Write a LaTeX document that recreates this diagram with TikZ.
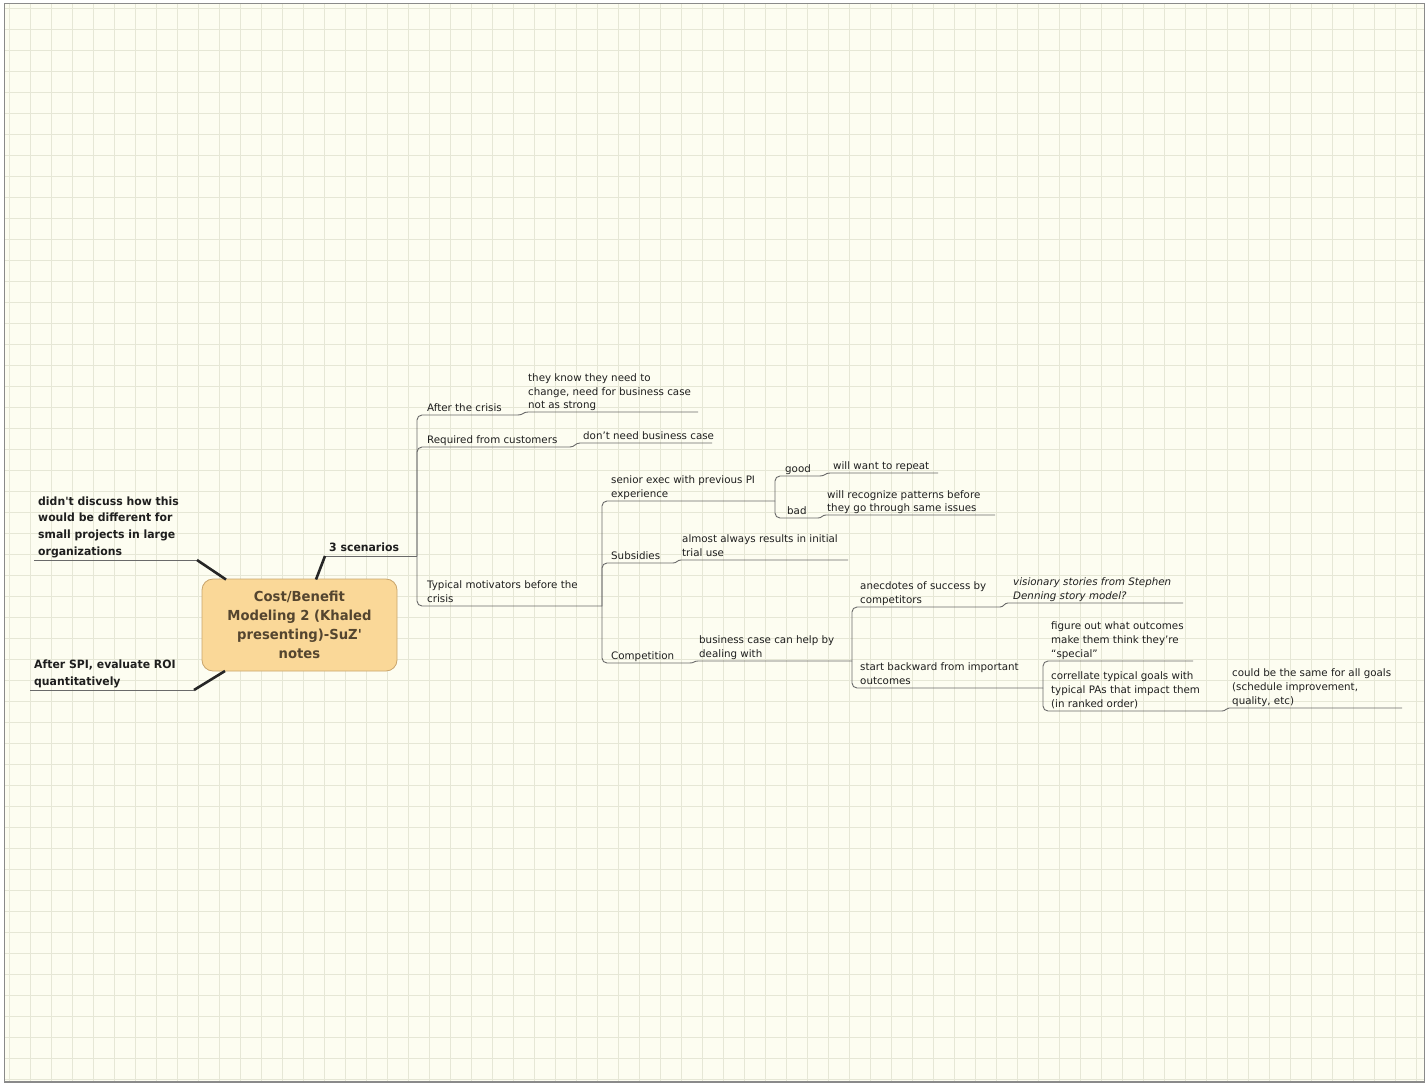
\documentclass[tikz,border=0pt]{standalone}
\usepackage{fontspec}
\setmainfont{DejaVu Sans}
\newfontfamily\boldfam{DejaVu Sans}[FakeStretch=0.955]
\usetikzlibrary{calc}
\definecolor{bgc}{HTML}{FDFDF1}
\definecolor{gridc}{HTML}{E6E7D6}
\definecolor{framec}{HTML}{8A8A8A}
\definecolor{lnc}{HTML}{6A6A6A}
\definecolor{txtc}{HTML}{1E1E1E}
\definecolor{rootfill}{HTML}{FAD898}
\definecolor{rootdraw}{HTML}{C9A56C}
\definecolor{roottxt}{HTML}{54452F}
\tikzset{
  sm/.style={font=\fontsize{10.3}{13.8}\selectfont, align=left, inner sep=0pt, anchor=south west, text depth=0pt, text=txtc},
  smit/.style={sm, font=\itshape\fontsize{10.3}{13.8}\selectfont},
  bigtopic/.style={font=\boldfam\bfseries\fontsize{11.4}{16.7}\selectfont, align=left, inner sep=0pt, anchor=south west, text depth=0pt, text=txtc},
  rootbox/.style={draw=rootdraw, fill=rootfill, line width=0.8pt, rounded corners=11pt, minimum width=195pt, minimum height=92pt, inner sep=0pt, align=center, text=roottxt, font=\boldfam\bfseries\fontsize{13.8}{19}\selectfont},
  ln/.style={draw=lnc, line width=0.9pt},
  br/.style={ln, rounded corners=5pt},
  heavy/.style={draw=black!85, line width=2.6pt},
}
\begin{document}
\begin{tikzpicture}[x=1pt,y=-1pt]
\useasboundingbox (0,0) rectangle (1428,1085);
\fill[white] (0,0) rectangle (1428,1085);
\fill[bgc] (4.5,3.5) rectangle (1424.5,1082);
\foreach \i in {0,...,67} {\draw[gridc, line width=0.9pt] ({9+21*\i},4) -- ({9+21*\i},1081.5);}
\foreach \j in {0,...,51} {\draw[gridc, line width=0.9pt] (5,{8+21*\j}) -- (1424,{8+21*\j});}
\draw[framec, line width=1.6pt] (4.5,3.5) rectangle (1424.5,1082);

% root
\node[rootbox] (R) at (299.5,625) {Cost/Benefit\\Modeling 2 (Khaled\\presenting)-SuZ'\\notes};

% left topics
\node[bigtopic] (L1) at (38,555.5) {didn't discuss how this\\would be different for\\small projects in large\\organizations};
\coordinate (L1s) at (34,560); \coordinate (L1e) at (197,560);
\coordinate (R1) at (226,579.5);
\draw[ln] (L1s) -- (L1e);
\draw[heavy] (L1e) -- (R1);

\node[bigtopic] (L2) at (34,685.5) {After SPI, evaluate ROI\\quantitatively};
\coordinate (L2s) at (30,690); \coordinate (L2e) at (194,690);
\coordinate (R2) at (225,671);
\draw[ln] (L2s) -- (L2e);
\draw[heavy] (L2e) -- (R2);

\node[bigtopic] (S) at (329,551.5) {3 scenarios};
\coordinate (Ss) at (325,556); \coordinate (J1) at (417,556);
\coordinate (R3) at (316,579.5);
\draw[ln] (Ss) -- (J1);
\draw[heavy] (Ss) -- (R3);

% After the crisis
\node[sm] (A) at (427,412) {After the crisis};
\coordinate (Ae) at (518,415);
\draw[br] (J1) |- (Ae);
\node[sm] (A1) at (528,409) {they know they need to\\change, need for business case\\not as strong};
\coordinate (A1s) at (528,412); \coordinate (A1e) at (698,412);
\draw[ln] (Ae) .. controls (523,415) and (523,412) .. (A1s) -- (A1e);

% Required from customers
\node[sm] (B) at (427,443.5) {Required from customers};
\coordinate (Be) at (570,447);
\draw[br] (J1) |- (Be);
\node[sm] (B1) at (583,440) {don't need business case};
\coordinate (B1s) at (580,443); \coordinate (B1e) at (712,443);
\draw[ln] (Be) .. controls (575,447) and (575,443) .. (B1s) -- (B1e);

% Typical motivators
\node[sm] (T) at (427,602.5) {Typical motivators before the\\crisis};
\coordinate (J2) at (602,606);
\draw[br] (J1) |- (J2);

% senior exec
\node[sm] (SE) at (611,497.5) {senior exec with previous PI\\experience};
\coordinate (J3) at (775,501);
\draw[br] (J2) |- (J3);
\node[sm] (G) at (785,472.5) {good};
\coordinate (Ge) at (820,476);
\draw[br] (J3) |- (Ge);
\node[sm] (G1) at (833,470) {will want to repeat};
\coordinate (G1s) at (830,473); \coordinate (G1e) at (938,473);
\draw[ln] (Ge) .. controls (825,476) and (825,473) .. (G1s) -- (G1e);
\node[sm] (Bd) at (787,514.5) {bad};
\coordinate (Bde) at (818,518);
\draw[br] (J3) |- (Bde);
\node[sm] (Bd1) at (827,512) {will recognize patterns before\\they go through same issues};
\coordinate (Bd1s) at (826,515); \coordinate (Bd1e) at (995,515);
\draw[ln] (Bde) .. controls (822,518) and (822,515) .. (Bd1s) -- (Bd1e);

% Subsidies
\node[sm] (Su) at (611,559.5) {Subsidies};
\coordinate (Sue) at (673,563);
\draw[br] (J2) |- (Sue);
\node[sm] (Su1) at (682,556.5) {almost always results in initial\\trial use};
\coordinate (Su1s) at (681,560); \coordinate (Su1e) at (848,560);
\draw[ln] (Sue) .. controls (677,563) and (677,560) .. (Su1s) -- (Su1e);

% Competition
\node[sm] (C) at (611,659.5) {Competition};
\coordinate (Ce) at (690,663);
\draw[br] (J2) |- (Ce);
\node[sm] (C1) at (699,657.5) {business case can help by\\dealing with};
\coordinate (C1s) at (698,661); \coordinate (J4) at (852,661);
\draw[ln] (Ce) .. controls (694,663) and (694,661) .. (C1s) -- (J4);

% anecdotes
\node[sm] (An) at (860,603.5) {anecdotes of success by\\competitors};
\coordinate (Ane) at (1000,607);
\draw[br] (J4) |- (Ane);
\node[smit] (An1) at (1013,599.5) {visionary stories from Stephen\\Denning story model?};
\coordinate (An1s) at (1008,603); \coordinate (An1e) at (1183,603);
\draw[ln] (Ane) .. controls (1004,607) and (1004,603) .. (An1s) -- (An1e);

% start backward
\node[sm] (Sb) at (860,684.5) {start backward from important\\outcomes};
\coordinate (J5) at (1043,688);
\draw[br] (J4) |- (J5);
\node[sm] (F) at (1051,657.5) {figure out what outcomes\\make them think they're\\``special''};
\coordinate (Fe) at (1193,661);
\draw[br] (J5) |- (Fe);
\node[sm] (Co) at (1051,707.5) {correllate typical goals with\\typical PAs that impact them\\(in ranked order)};
\coordinate (Coe) at (1222,711);
\draw[br] (J5) |- (Coe);
\node[sm] (Co1) at (1232,704.5) {could be the same for all goals\\(schedule improvement,\\quality, etc)};
\coordinate (Co1s) at (1229,708); \coordinate (Co1e) at (1402,708);
\draw[ln] (Coe) .. controls (1226,711) and (1226,708) .. (Co1s) -- (Co1e);
\end{tikzpicture}
\end{document}
